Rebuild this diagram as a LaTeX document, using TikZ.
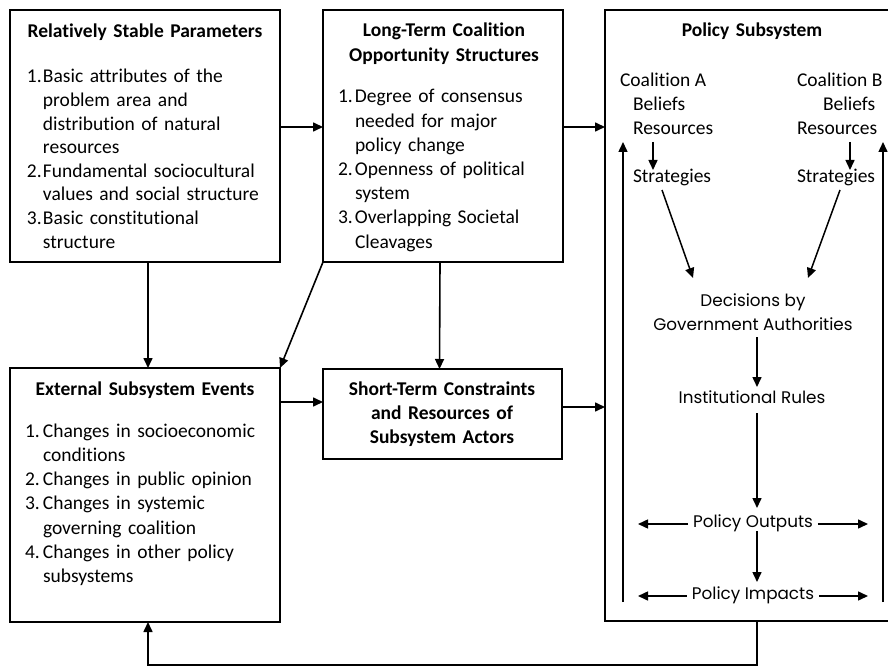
\documentclass[tikz,border=0pt]{standalone}
\usepackage{fontspec}
\setmainfont{Carlito}[Ligatures=CommonOff]
\newfontfamily\geofont{Poppins}
\usetikzlibrary{arrows.meta,calc}
\begin{document}
\begin{tikzpicture}[x=1pt,y=-1pt,
  box/.style={draw, line width=1.9pt, inner sep=0pt, outer sep=0pt, anchor=north west},
  arr/.style={-{Triangle[length=10pt,width=9pt]}, line width=1.6pt},
  iarr/.style={-{Triangle[length=10pt,width=9pt]}, line width=1.5pt},
  txt/.style={inner sep=0pt, outer sep=0pt, font=\fontsize{19.5}{23.6}\selectfont},
  ttl/.style={txt, anchor=base, align=center, text width=236pt, font=\fontsize{19.5}{24.5}\selectfont\bfseries},
  lst/.style={txt, anchor=base west, align=left, text width=255pt},
  geo/.style={inner sep=0pt, outer sep=0pt, anchor=base, align=center, font=\geofont\fontsize{16.8}{24}\selectfont}
]
\useasboundingbox (0,0) rectangle (888,668);

% boxes
\node[box, minimum width=270pt, minimum height=252pt] (b1) at (10,10) {};
\node[box, minimum width=240pt, minimum height=252pt] (b2) at (323,10) {};
\node[box, minimum width=304pt, minimum height=611pt] (b3) at (605,10) {};
\node[box, minimum width=270pt, minimum height=254pt] (b4) at (10,368) {};
\node[box, minimum width=239pt, minimum height=90pt] (b5) at (323,369) {};

% box 1
\node[ttl] (t1) at (145,38) {Relatively Stable Parameters};
\node[lst, font=\fontsize{19.5}{23.6}\selectfont] (l1) at (27,83) {%
\makebox[16pt][l]{1.}Basic attributes of the\\
\hspace*{16pt}problem area and\\
\hspace*{16pt}distribution of natural\\
\hspace*{16pt}resources\\
\makebox[16pt][l]{2.}Fundamental sociocultural\\
\hspace*{16pt}values and social structure\\
\makebox[16pt][l]{3.}Basic constitutional\\
\hspace*{16pt}structure};

% box 2
\node[ttl, font=\fontsize{19.5}{25}\selectfont\bfseries] (t2) at (444,37) {Long-Term Coalition\\Opportunity Structures};
\node[lst, font=\fontsize{19.5}{24.2}\selectfont] (l2) at (338,103) {%
\makebox[17pt][l]{1.}Degree of consensus\\
\hspace*{17pt}needed for major\\
\hspace*{17pt}policy change\\
\makebox[17pt][l]{2.}Openness of political\\
\hspace*{17pt}system\\
\makebox[17pt][l]{3.}Overlapping Societal\\
\hspace*{17pt}Cleavages};

% box 4
\node[ttl] (t4) at (145,395) {External Subsystem Events};
\node[lst, font=\fontsize{19.5}{24.3}\selectfont] (l4) at (25,437) {%
\makebox[18pt][l]{1.}Changes in socioeconomic\\
\hspace*{18pt}conditions\\
\makebox[18pt][l]{2.}Changes in public opinion\\
\makebox[18pt][l]{3.}Changes in systemic\\
\hspace*{18pt}governing coalition\\
\makebox[18pt][l]{4.}Changes in other policy\\
\hspace*{18pt}subsystems};

% box 5
\node[ttl, font=\fontsize{19.5}{24}\selectfont\bfseries] (t5) at (442,395) {Short-Term Constraints\\and Resources of\\Subsystem Actors};

% box 3
\node[ttl] (t3) at (752,37) {Policy Subsystem};
\node[txt, anchor=base west] (coA) at (620,87) {Coalition A};
\node[txt, anchor=base west] (belA) at (633,111) {Beliefs};
\node[txt, anchor=base west] (resA) at (633,135) {Resources};
\node[txt, anchor=base west] (strA) at (633,183) {Strategies};
\node[txt, anchor=base west] (coB) at (797,87) {Coalition B};
\node[txt, anchor=base west] (belB) at (823,111) {Beliefs};
\node[txt, anchor=base west] (resB) at (797,135) {Resources};
\node[txt, anchor=base west] (strB) at (797,183) {Strategies};

\node[geo] (dec) at (753,306) {Decisions by};
\node[geo] (gov) at (753,330) {Government Authorities};
\node[geo] (inst) at (752,403) {Institutional Rules};
\node[geo] (out) at (753,527) {Policy Outputs};
\node[geo] (imp) at (753,599) {Policy Impacts};

% connectors between boxes
\draw[arr] ($(b1.east)+(0,-9)$) -- ($(b2.west)+(0,-9)$);
\coordinate (c23) at ($(b2.east)+(0,-9)$);
\draw[arr] (c23) -- (c23 -| b3.west);
\draw[arr] ([xshift=3pt]b1.south) -- ([xshift=3pt]b4.north);
\draw[arr] (b2.south west) -- (b4.north east);
\draw[arr] ([xshift=-3pt]b2.south) -- ([xshift=-3pt]b5.north);
\coordinate (c45) at ($(b5.west)+(0,-12)$);
\draw[arr] (c45 -| b4.east) -- (c45);
\coordinate (c53) at ($(b5.east)+(0,-7)$);
\draw[arr] (c53) -- (c53 -| b3.west);
\draw[arr] (b3.south) -- ++(0,44) -| ([xshift=3pt]b4.south);

% inside policy subsystem
\draw[iarr] ($(resA.base west)+(20,7)$) -- ($(strA.base west)+(20,-13)$);
\draw[iarr] ($(resB.base west)+(53,7)$) -- ($(strB.base west)+(53,-13)$);
\draw[iarr] ($(strA.base west)+(29,7)$) -- ($(dec.base)+(-60,-28)$);
\draw[iarr] ($(strB.base west)+(43,7)$) -- ($(dec.base)+(55,-28)$);
\draw[iarr] ($(gov.base)+(4,7)$) -- ($(inst.base)+(5,-16)$);
\draw[iarr] ($(inst.base)+(5,10)$) -- ($(out.base)+(4,-19)$);
\draw[iarr] ($(out.base)+(4,4)$) -- ($(imp.base)+(4,-17)$);

\draw[iarr] ($(out.base west)+(-5,-3)$) -- ($(out.base west -| b3.west)+(33,-3)$);
\draw[iarr] ($(out.base east)+(5,-3)$) -- ($(out.base east -| b3.east)+(-41,-3)$);
\draw[iarr] ($(imp.base west)+(-5,-3)$) -- ($(imp.base west -| b3.west)+(33,-3)$);
\draw[iarr] ($(imp.base east)+(5,-3)$) -- ($(imp.base east -| b3.east)+(-41,-3)$);

\coordinate (fl) at ($(b3.south west)+(18,-19)$);
\coordinate (fr) at ($(b3.south east)+(-26,-19)$);
\draw[iarr] (fl) -- ($(fl |- resA.base)+(0,7)$);
\draw[iarr] (fr) -- ($(fr |- resB.base)+(0,7)$);
\end{tikzpicture}
\end{document}
